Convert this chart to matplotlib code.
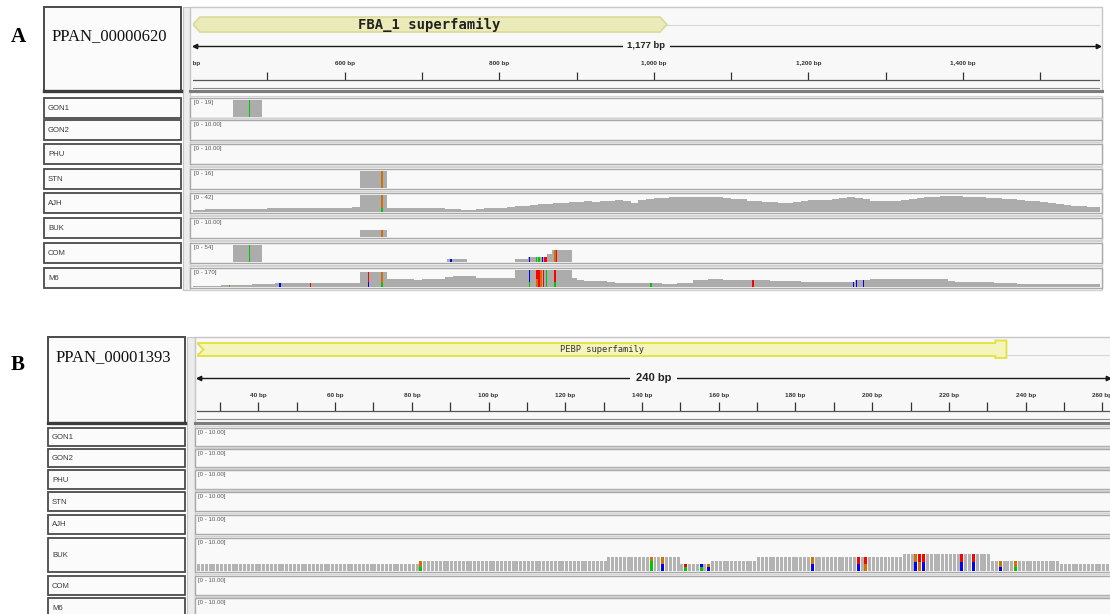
import matplotlib
matplotlib.use('Agg')
import matplotlib.pyplot as plt
from matplotlib.patches import Rectangle, Polygon
import numpy as np

plt.rcParams['font.family'] = ['Liberation Sans', 'DejaVu Sans']

W, H = 1110, 614

samples = ['GON1', 'GON2', 'PHU', 'STN', 'AJH', 'BUK', 'COM', 'M6']
base_colors = {'A': '#00c800', 'C': '#0000ff', 'G': '#d17105', 'T': '#ff0000'}
cov_color = '#acacac'

# ---------------- panel A : PPAN_00000620 ----------------
a_gene = 'PPAN_00000620'
a_span = (404, 1577)
a_length = '1,177 bp'
a_domain = ('FBA_1 superfamily', 404, 1017)
a_ticks = list(range(400, 1600, 100))
a_labelled = list(range(400, 1600, 200))
a_max = [19, 10, 10, 16, 42, 10, 54, 170]
a_range_labels = ['[0 - 19]', '[0 - 10.00]', '[0 - 10.00]', '[0 - 16]',
                  '[0 - 42]', '[0 - 10.00]', '[0 - 54]', '[0 - 170]']

# read pileups with sharp edges: (start, end, depth)
a_blocks = {
    'GON1': [(456, 493, 19)],
    'STN': [(620, 655, 16)],
    'AJH': [(620, 655, 42)],
    'BUK': [(620, 655, 4)],
    'COM': [(456, 493, 54), (733, 758, 9), (821, 837, 11), (837, 862, 16),
            (862, 868, 26), (868, 894, 37)],
    'M6': [(620, 655, 155), (821, 894, 168)],
}

# background coverage in 10 bp bins starting at 400 bp
a_bin0, a_bin = 400, 10
a_profile = {
    'AJH': [6, 6, 7, 7, 7, 8, 8, 8, 7, 8, 9, 9, 9, 10, 9, 10, 10, 11, 10, 11, 11, 12,
            11, 11, 11, 11,
            9, 10, 10, 9, 10, 9, 9, 8, 7, 5, 6, 8, 9, 10, 11, 12, 14, 15, 17, 19,
            20, 21, 22, 24, 25, 26, 25, 27, 28, 29, 27, 23, 30, 32, 34, 35, 36, 37,
            36, 38, 37, 36, 37, 35, 33, 31, 28, 26, 25, 24, 23, 22, 24, 27, 29, 29,
            30, 31, 35, 36, 34, 31, 28, 27, 28, 27, 30, 33, 35, 37, 38, 39, 40, 39,
            38, 37, 36, 35, 34, 33, 32, 30, 28, 26, 24, 22, 20, 18, 16, 14, 13, 12],
    'M6': [6, 9, 12, 15, 18, 20, 22, 25, 28, 31, 33, 36, 38, 40, 42, 41, 43, 42, 44,
           42, 43, 44,
           44, 44, 44, 77,
           76, 78, 77, 75, 78, 76, 77, 100, 108, 112, 110, 95, 90, 88, 89, 90,
           90, 90, 90, 90, 90, 90, 90, 90,
           66, 65, 64, 58, 47, 45, 44, 42, 40, 38, 36, 35, 34, 36, 40, 70, 74, 77,
           76, 75, 72, 68, 67, 68, 66, 65, 64, 62, 58, 54, 53, 55, 54, 52, 54, 55,
           70, 75, 77, 78, 77, 79, 80, 83, 84, 82, 83, 80, 60, 50, 48, 47, 46, 47,
           45, 44, 40, 34, 32, 33, 31, 32, 30, 31, 32, 30, 31, 32],
}

# mismatches: (sample, position, upper base, lower base, lower fraction)
a_snvs = [
    ('GON1', 476, 'A', 'A', 1.0),
    ('STN', 647, 'G', 'G', 1.0),
    ('AJH', 647, 'G', 'A', 0.25),
    ('BUK', 647, 'G', 'G', 1.0),
    ('COM', 476, 'A', 'A', 1.0),
    ('COM', 737, 'C', 'C', 1.0),
    ('COM', 838, 'C', 'C', 1.0),
    ('COM', 847, 'A', 'A', 1.0),
    ('COM', 850, 'A', 'A', 1.0),
    ('COM', 855, 'C', 'C', 1.0),
    ('COM', 858, 'T', 'T', 1.0),
    ('COM', 860, 'T', 'T', 1.0),
    ('COM', 871, 'G', 'G', 1.0),
    ('COM', 873, 'T', 'T', 1.0),
    ('M6', 450, 'G', 'G', 1.0),
    ('M6', 515, 'C', 'C', 1.0),
    ('M6', 555, 'T', 'T', 1.0),
    ('M6', 630, 'T', 'C', 0.3),
    ('M6', 647, 'G', 'A', 0.25),
    ('M6', 838, 'C', 'A', 0.3),
    ('M6', 848, 'T', 'G', 0.5),
    ('M6', 850, 'T', 'T', 1.0),
    ('M6', 853, 'G', 'G', 1.0),
    ('M6', 856, 'T', 'T', 1.0),
    ('M6', 860, 'A', 'A', 1.0),
    ('M6', 871, 'T', 'A', 0.3),
    ('M6', 995, 'A', 'A', 1.0),
    ('M6', 1127, 'T', 'T', 1.0),
    ('M6', 1257, 'C', 'C', 1.0),
    ('M6', 1261, 'C', 'C', 1.0),
    ('M6', 1270, 'C', 'C', 1.0),
]

# ---------------- panel B : PPAN_00001393 ----------------
b_gene = 'PPAN_00001393'
b_span = (24, 262)
b_length = '240 bp'
b_domain = ('PEBP superfamily', 24, 235)
b_ticks = list(range(30, 270, 10))
b_labelled = list(range(40, 280, 20))
b_max = [10] * 8
b_range_labels = ['[0 - 10.00]'] * 8

# per-base depth in BUK: (first base, last base + 1, depth)
b_buk_depth = [(24, 82, 2.3), (82, 131, 3.3), (131, 150, 4.5), (150, 158, 2.3),
               (158, 170, 3.3), (170, 208, 4.5), (208, 231, 5.6), (231, 249, 3.3),
               (249, 262, 2.3)]

b_snvs = [
    ('BUK', 82, 'G', 'A', 0.4), ('BUK', 142, 'G', 'A', 0.7),
    ('BUK', 145, 'G', 'C', 0.5), ('BUK', 151, 'T', 'A', 0.5),
    ('BUK', 155, 'C', 'A', 0.5), ('BUK', 157, 'G', 'C', 0.5),
    ('BUK', 184, 'G', 'C', 0.5), ('BUK', 196, 'T', 'C', 0.5),
    ('BUK', 198, 'T', 'G', 0.5), ('BUK', 211, 'G', 'C', 0.5),
    ('BUK', 212, 'T', 'G', 0.5), ('BUK', 213, 'T', 'C', 0.5),
    ('BUK', 223, 'T', 'C', 0.5), ('BUK', 226, 'T', 'C', 0.5),
    ('BUK', 233, 'G', 'C', 0.4), ('BUK', 237, 'G', 'A', 0.4),
]

fig = plt.figure(figsize=(W / 100, H / 100), dpi=100)
bg = fig.add_axes([0, 0, 1, 1])
bg.set_xlim(0, W)
bg.set_ylim(H, 0)
bg.axis('off')


def px_axes(x0, y0, x1, y1, xlim, ylim):
    ax = fig.add_axes([x0 / W, 1 - y1 / H, (x1 - x0) / W, (y1 - y0) / H])
    ax.set_xlim(*xlim)
    ax.set_ylim(*ylim)
    ax.axis('off')
    return ax


def box(x0, y0, x1, y1, fc, ec, lw, z=1):
    bg.add_patch(Rectangle((x0, y0), x1 - x0, y1 - y0, facecolor=fc,
                           edgecolor=ec, linewidth=lw, zorder=z))


def depth_at(p, name, pos):
    d = 0
    for s, e, v in p['blocks'].get(name, []):
        if s <= pos < e:
            d = max(d, v)
    if d == 0 and name in p['profile']:
        vals = p['profile'][name]
        k = int((pos - p['bin0']) // p['bin'])
        if 0 <= k < len(vals):
            d = vals[k]
    return d


def draw_panel(p):
    lay = p['layout']
    nx0, nx1 = lay['name_x']
    sx0, sx1 = lay['strip_x']
    dx0, dx1 = lay['data_x']
    px0, px1 = lay['plot_x']
    ht, hb = lay['header_y']
    last = lay['tops'][-1] + lay['heights'][-1]

    bg.text(lay['letter'][0], lay['letter'][1], p['letter'], fontsize=15,
            fontweight='bold', family='Liberation Serif', ha='left', va='baseline')

    # header boxes
    box(nx0, ht, nx1, hb, '#fbfbfb', '#4a4a4a', 1.4)
    bg.text(nx0 + 8, lay['gene_base'], p['gene'], fontsize=12,
            family='Liberation Serif', ha='left', va='baseline', color='#111111')
    box(sx0, ht, sx1, min(last + 2, H + 5), '#ececec', '#c4c4c4', 0.8)
    box(dx0, ht, dx1, hb, '#f8f8f8', '#c6c6c6', 1.0)
    bg.plot([nx0, nx1], [hb - 1, hb - 1], color='#3c3c3c', lw=2.4, zorder=3)
    bg.plot([dx0, dx1], [hb - 1, hb - 1], color='#7c7c7c', lw=2.2, zorder=3)

    hh = hb - ht
    ax = px_axes(px0, ht, px1, hb, p['span'], (hh, 0))
    fy0, fy1 = lay['feat_y']
    name, fs, fe = p['domain']
    fm = (fy0 + fy1) / 2
    if p['feature_style'] == 'pointed':
        tip = 9
        pts = [(fs, fm), (fs + tip, fy0), (fe - tip, fy0), (fe, fm),
               (fe - tip, fy1), (fs + tip, fy1)]
        ax.add_patch(Polygon(pts, closed=True, facecolor='#ebebb9',
                             edgecolor='#d9d99c', lw=1.2))
        ax.plot([fe, p['span'][1]], [fm, fm], color='#d6d6d6', lw=0.8)
        ax.text(p['domain_text_x'], fm, name, fontsize=10, fontweight='bold',
                family='DejaVu Sans Mono', ha='center', va='center', color='#222222')
    else:
        tab = 2.9
        pts = [(fs, fy0), (fe - tab, fy0), (fe - tab, fy0 - 2.5), (fe, fy0 - 2.5),
               (fe, fy1 + 2), (fe - tab, fy1 + 2), (fe - tab, fy1), (fs, fy1),
               (fs + 1.7, fm)]
        ax.add_patch(Polygon(pts, closed=True, facecolor='#f4f4bd',
                             edgecolor='#e2e23a', lw=1.3))
        ax.plot([fe, p['span'][1]], [fy1 - 1, fy1 - 1], color='#d6d6d6', lw=0.8)
        ax.text(p['domain_text_x'], fm, name, fontsize=6.3, family='DejaVu Sans Mono',
                ha='center', va='center', color='#333333')

    # ruler
    ry = lay['ruler_y']
    s0, s1 = p['span']
    ax.plot([s0, s1], [ry, ry], color='#1a1a1a', lw=1.0)
    ax.plot([s0 + (s1 - s0) * 0.002], [ry], marker='<', ms=3.2, color='#1a1a1a')
    ax.plot([s1 - (s1 - s0) * 0.002], [ry], marker='>', ms=3.2, color='#1a1a1a')
    ax.text((s0 + s1) / 2, ry, p['length'], fontsize=p['length_size'],
            fontweight='bold', ha='center', va='center', color='#222222',
            bbox=dict(boxstyle='square,pad=0.5', fc='#f8f8f8', ec='none'))
    ty0, ty1 = lay['tick_y']
    ax.vlines(p['ticks'], ty0, ty1, color='#333333', lw=0.9)
    ax.plot([s0, s1], [ty1, ty1], color='#555555', lw=0.9)
    ax.plot([s0, s1], [lay['rule2_y'], lay['rule2_y']], color='#8a8a8a', lw=0.8)
    for t in p['labelled']:
        ax.text(t, lay['label_y'], '{:,} bp'.format(t), fontsize=4.6,
                fontweight='bold', ha='center', va='center', color='#333333',
                clip_on=True)

    # sample tracks
    for i, sname in enumerate(samples):
        top = lay['tops'][i]
        h = lay['heights'][i]
        bot = top + h
        box(nx0, top, nx1, bot, '#fbfbfb', '#4a4a4a', 1.3)
        bg.text(lay['track_text_x'], top + h / 2 + 0.5, sname, fontsize=5.6,
                ha='left', va='center', color='#3a3a3a')
        box(dx0, top - 2, dx1, bot + 2, 'none', '#d2d2d2', 1.0)
        box(dx0, top, dx1, bot, '#f9f9f9', '#a9a9a9', 1.0)
        bg.text(px0 + 1, top + 4.5, p['range_labels'][i], fontsize=4.4,
                ha='left', va='center', color='#555555', zorder=5)

        tax = px_axes(px0, top + 2, px1, bot - 1, p['span'], (0, p['max'][i]))
        if p['per_base']:
            if sname in p['base_depth']:
                bases, depth = [], []
                for s, e, v in p['base_depth'][sname]:
                    for b in range(s, e):
                        bases.append(b)
                        depth.append(v)
                tax.bar(bases, depth, width=0.78, align='edge', color='#b3b3b3',
                        linewidth=0)
            w = 0.78
        else:
            if sname in p['profile']:
                vals = p['profile'][sname]
                edges = p['bin0'] + p['bin'] * np.arange(len(vals) + 1)
                tax.stairs(vals, edges, fill=True, color=cov_color, linewidth=0)
            for s, e, v in p['blocks'].get(sname, []):
                tax.bar(s, v, width=e - s, align='edge', color=cov_color, linewidth=0)
            w = 2.2

        for smp, pos, up, low, frac in p['snvs']:
            if smp != sname:
                continue
            if p['per_base']:
                d = dict((b, v) for s, e, v in p['base_depth'][sname]
                         for b in range(s, e)).get(pos, 0)
            else:
                d = depth_at(p, sname, pos)
            tax.bar(pos, d * frac, width=w, align='edge', color=base_colors[low],
                    linewidth=0)
            tax.bar(pos, d * (1 - frac), bottom=d * frac, width=w, align='edge',
                    color=base_colors[up], linewidth=0)


panel_a = dict(
    letter='A', gene=a_gene, span=a_span, length=a_length, length_size=6.8,
    domain=a_domain, domain_text_x=710, feature_style='pointed',
    ticks=a_ticks, labelled=a_labelled, max=a_max, range_labels=a_range_labels,
    blocks=a_blocks, profile=a_profile, bin0=a_bin0, bin=a_bin,
    snvs=a_snvs, per_base=False, base_depth={},
    layout=dict(letter=(11, 41.5), name_x=(44, 181), strip_x=(183, 190),
                data_x=(190, 1102), plot_x=(193, 1100), header_y=(7, 92),
                gene_base=40, feat_y=(10, 25), ruler_y=39, label_y=57,
                tick_y=(65, 73), rule2_y=81,
                tops=[98, 120, 144, 169, 193, 218, 243, 268], heights=[20] * 8,
                track_text_x=48),
)

panel_b = dict(
    letter='B', gene=b_gene, span=b_span, length=b_length, length_size=8,
    domain=b_domain, domain_text_x=129.5, feature_style='tabbed',
    ticks=b_ticks, labelled=b_labelled, max=b_max, range_labels=b_range_labels,
    blocks={}, profile={}, bin0=0, bin=1,
    snvs=b_snvs, per_base=True, base_depth={'BUK': b_buk_depth},
    layout=dict(letter=(11, 370.5), name_x=(48, 185), strip_x=(187, 195),
                data_x=(195, 1114), plot_x=(197, 1110), header_y=(337, 424),
                gene_base=361, feat_y=(6, 19), ruler_y=41, label_y=59,
                tick_y=(65, 74), rule2_y=82,
                tops=[428, 449, 470, 492, 515, 538, 576, 598],
                heights=[18, 18, 19, 19, 19, 34, 19, 19],
                track_text_x=52),
)

draw_panel(panel_a)
draw_panel(panel_b)

fig.savefig('out.png', dpi=100, facecolor='white')
